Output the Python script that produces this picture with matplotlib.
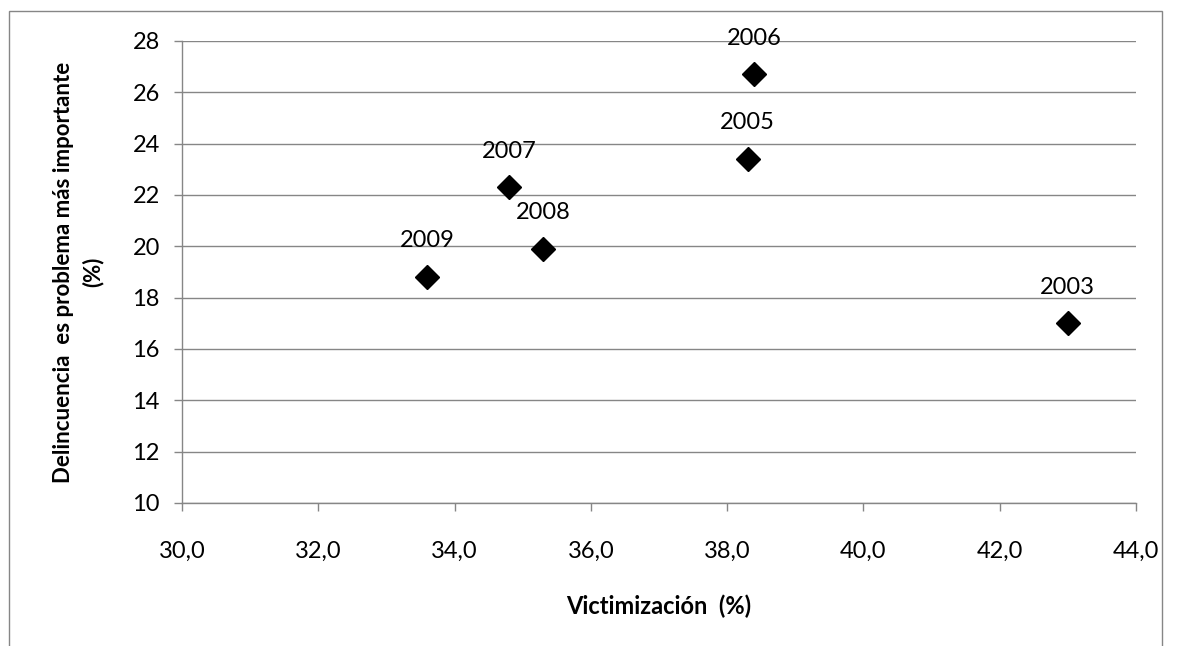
import numpy as np
import matplotlib.pyplot as plt
from matplotlib.patches import Rectangle

plt.rcParams['font.family'] = ['Lato', 'DejaVu Sans']

# data
years = ['2003', '2005', '2006', '2007', '2008', '2009']
victimizacion = [43.0, 38.3, 38.4, 34.8, 35.3, 33.6]
delincuencia = [17.0, 23.4, 26.7, 22.3, 19.9, 18.8]

xticks = np.arange(30, 44.1, 2)
yticks = np.arange(10, 28.1, 2)

grey = '#868686'

fig = plt.figure(figsize=(11.79, 6.46), dpi=100)
ax = fig.add_axes([0.1544, 0.2214, 0.8091, 0.7152])

# outer chart frame
fig.patches.append(Rectangle((9/1179, -0.05), (1162-9)/1179, 1 - 11/646 + 0.05,
                             transform=fig.transFigure, fill=False,
                             edgecolor=grey, linewidth=1.0))

ax.plot(victimizacion, delincuencia, linestyle='none', marker='D',
        markersize=12, color='black', zorder=3)
for yr, xv, yv in zip(years, victimizacion, delincuencia):
    ax.annotate(yr, (xv, yv), xytext=(0, 26), textcoords='offset points',
                ha='center', va='center', fontsize=17, color='black')

ax.set_xlim(30, 44)
ax.set_ylim(10, 28)
ax.set_xticks(xticks)
ax.set_xticklabels([f'{v:.1f}'.replace('.', ',') for v in xticks])
ax.set_yticks(yticks)
ax.set_yticklabels([f'{v:.0f}' for v in yticks])
ax.tick_params(axis='both', direction='out', length=6, width=1.0,
               color=grey, labelsize=17, pad=10)
ax.tick_params(axis='x', pad=21)

ax.yaxis.grid(True, color=grey, linewidth=1.0)
ax.set_axisbelow(True)
for s in ['top', 'right']:
    ax.spines[s].set_visible(False)
for s in ['left', 'bottom']:
    ax.spines[s].set_color(grey)
    ax.spines[s].set_linewidth(1.0)

ax.set_xlabel('Victimización  (%)', fontsize=17, fontweight='bold', labelpad=24)
ax.set_ylabel('Delincuencia  es problema más importante\n(%)', fontsize=16,
              fontweight='bold', labelpad=21, linespacing=1.4)

fig.savefig('out.png', dpi=100)
